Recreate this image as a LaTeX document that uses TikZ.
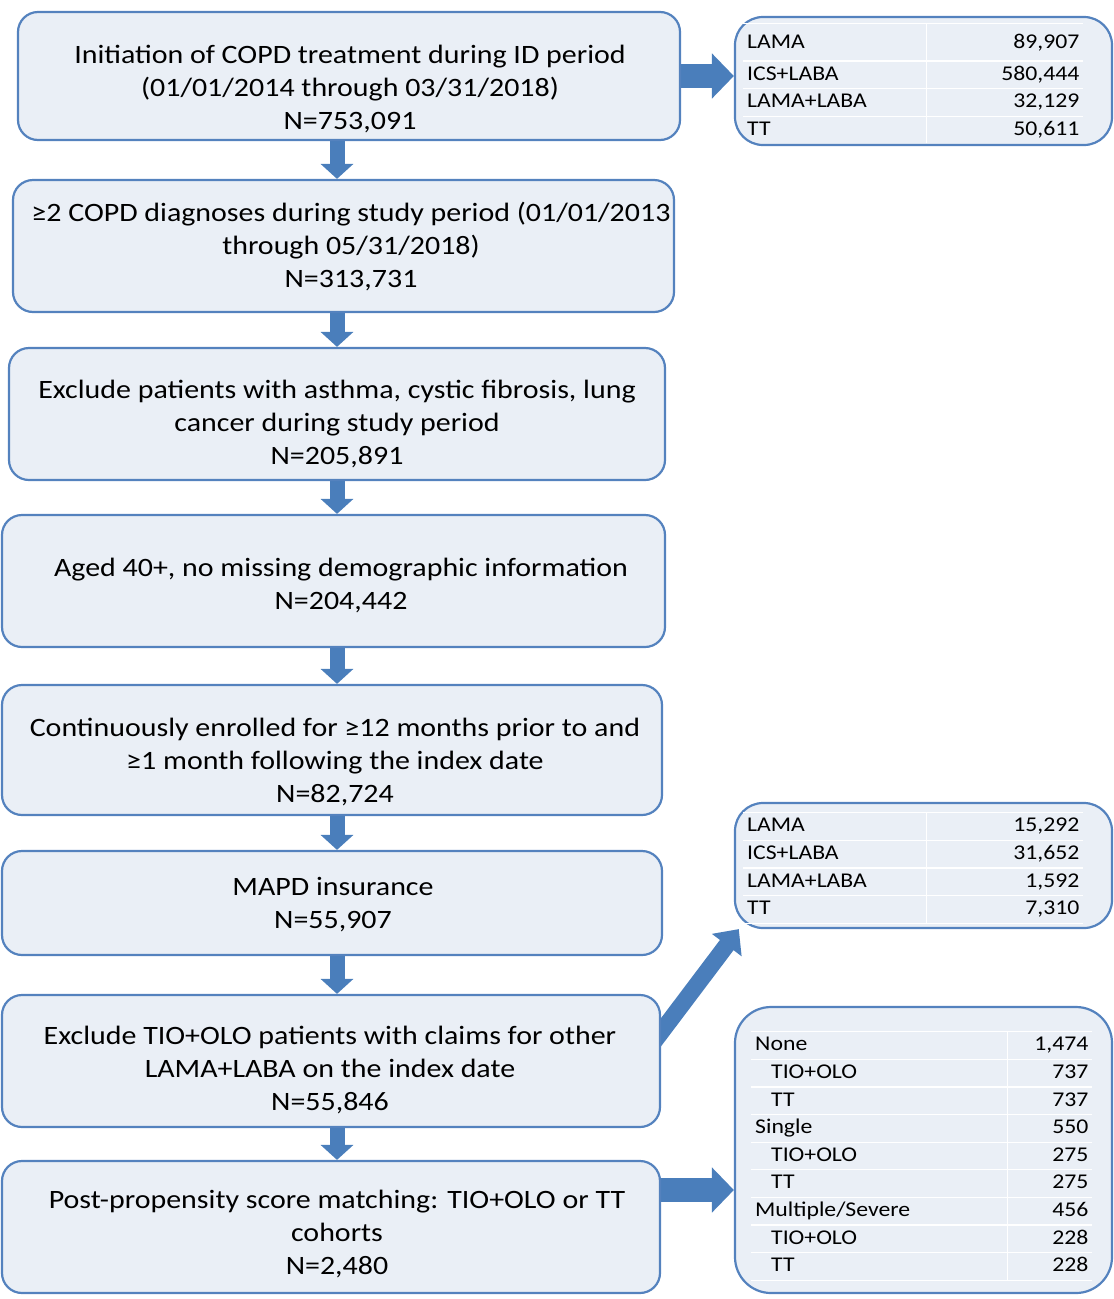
\documentclass[tikz,border=0pt]{standalone}
\usepackage{fontspec}
\setmainfont{Carlito}[FakeStretch=1.13]
\usepackage{array}
\usepackage{colortbl}
\usetikzlibrary{arrows.meta,positioning,calc,backgrounds}
\definecolor{boxline}{RGB}{84,130,190}
\definecolor{boxfill}{RGB}{234,239,246}
\definecolor{arrowblue}{RGB}{74,126,187}
\newcolumntype{L}[1]{>{\raggedright\arraybackslash}p{#1}}
\newcolumntype{R}[1]{>{\raggedleft\arraybackslash}p{#1}}
\newcommand{\rowsetup}{\setlength\tabcolsep{4pt}\setlength\arrayrulewidth{1.2pt}\arrayrulecolor{white}}

\begin{document}
\begin{tikzpicture}[x=1pt,y=-1pt,
	stepbox/.style={draw=boxline, fill=boxfill, line width=2.2pt, rounded corners=20pt, inner sep=0pt},
	steptext/.style={align=center, inner sep=0pt, font=\fontsize{26.5}{33}\selectfont},
	tablebox/.style={draw=boxline, fill=boxfill, line width=2.2pt, rounded corners=28pt, minimum width=377pt, inner sep=0pt},
	tabletext/.style={anchor=north west, inner sep=0pt, font=\fontsize{21}{26.4}\selectfont},
	downarrow/.style={draw=arrowblue, line width=15pt, -{Triangle[width=32pt,length=15pt]}},
	sidearrow/.style={draw=arrowblue, line width=24pt, -{Triangle[width=44pt,length=22pt]}},
	diagarrow/.style={draw=arrowblue, line width=17pt, -{Triangle[width=36pt,length=20pt]}}]
		\useasboundingbox (0,0) rectangle (1114,1299);

		% flow steps
		\node[stepbox, minimum width=662pt, minimum height=128pt] (b1) at (349,76) {};
		\node[steptext] (b1text) at (350,89) {Initiation of COPD treatment during ID period\\(01/01/2014 through 03/31/2018)\\N=753,091};
		\node[stepbox, minimum width=661pt, minimum height=132pt] (b2) at (343.5,246) {};
		\node[steptext] (b2text) at (351,247) {≥2 COPD diagnoses during study period (01/01/2013\\through 05/31/2018)\\N=313,731};
		\node[stepbox, minimum width=656pt, minimum height=132pt] (b3) at (337,414) {};
		\node[steptext] (b3text) at (337,424) {Exclude patients with asthma, cystic fibrosis, lung\\cancer during study period\\N=205,891};
		\node[stepbox, minimum width=663pt, minimum height=132pt] (b4) at (333.5,581) {};
		\node[steptext] (b4text) at (341,585) {Aged 40+, no missing demographic information\\N=204,442};
		\node[stepbox, minimum width=660pt, minimum height=130pt] (b5) at (332,750) {};
		\node[steptext] (b5text) at (335,762) {Continuously enrolled for ≥12 months prior to and\\≥1 month following the index date\\N=82,724};
		\node[stepbox, minimum width=660pt, minimum height=104pt] (b6) at (332,903) {};
		\node[steptext] (b6text) at (333,904.5) {MAPD insurance\\N=55,907};
		\node[stepbox, minimum width=658pt, minimum height=132pt] (b7) at (331,1061) {};
		\node[steptext] (b7text) at (330,1070) {Exclude TIO+OLO patients with claims for other\\LAMA+LABA on the index date\\N=55,846};
		\node[stepbox, minimum width=658pt, minimum height=132pt] (b8) at (331,1227) {};
		\node[steptext] (b8text) at (337,1234) {Post-propensity score matching: TIO+OLO or TT\\cohorts\\N=2,480};

		% side tables
		\node[tablebox, minimum height=128pt] (t1) at (923.5,81) {};
		\node[tabletext] (t1rows) at (743,23) {\rowsetup\begin{tabular}{L{175pt}|R{148pt}}
			\hline
			\rule[-12pt]{0pt}{36pt}LAMA & 89,907\\ \hline
			ICS+LABA & 580,444\\ \hline
			LAMA+LABA & 32,129\\ \hline
			TT & 50,611\\
		\end{tabular}};

		\node[tablebox, minimum height=125pt] (t2) at (923.5,865.5) {};
		\node[tabletext] (t2rows) at (743,812) {\rowsetup\begin{tabular}{L{175pt}|R{148pt}}
			\hline
			LAMA & 15,292\\ \hline
			ICS+LABA & 31,652\\ \hline
			LAMA+LABA & 1,592\\ \hline
			TT & 7,310\\ \hline
		\end{tabular}};

		\node[tablebox, minimum height=286pt, rounded corners=36pt] (t3) at (923.5,1150) {};
		\node[tabletext] (t3rows) at (751,1031) {\rowsetup\begin{tabular}{L{248pt}|R{76pt}}
			\hline
			None & 1,474\\ \hline
			\hspace*{16pt}TIO+OLO & 737\\ \hline
			\hspace*{16pt}TT & 737\\ \hline
			Single & 550\\ \hline
			\hspace*{16pt}TIO+OLO & 275\\ \hline
			\hspace*{16pt}TT & 275\\ \hline
			Multiple/Severe & 456\\ \hline
			\hspace*{16pt}TIO+OLO & 228\\ \hline
			\hspace*{16pt}TT & 228\\ \hline
		\end{tabular}};

		% block arrows
		\coordinate (ax) at (337,0);
		\coordinate (a8) at ([yshift=37pt]b8.east);
		\begin{scope}[on background layer]
			\draw[downarrow] (b1.south -| ax) -- (b2.north -| ax);
			\draw[downarrow] (b2.south -| ax) -- (b3.north -| ax);
			\draw[downarrow] (b3.south -| ax) -- (b4.north -| ax);
			\draw[downarrow] (b4.south -| ax) -- (b5.north -| ax);
			\draw[downarrow] (b5.south -| ax) -- (b6.north -| ax);
			\draw[downarrow] (b6.south -| ax) -- (b7.north -| ax);
			\draw[downarrow] (b7.south -| ax) -- (b8.north -| ax);
			\draw[sidearrow] ([xshift=-4pt]b1.east) -- (t1.west |- b1.east);
			\draw[sidearrow] ([xshift=-4pt]a8) -- (t3.west |- a8);
			\draw[diagarrow] ($(b7.5)!-14pt!(t2.199)$) -- (t2.199);
		\end{scope}

	\end{tikzpicture}
\end{document}
